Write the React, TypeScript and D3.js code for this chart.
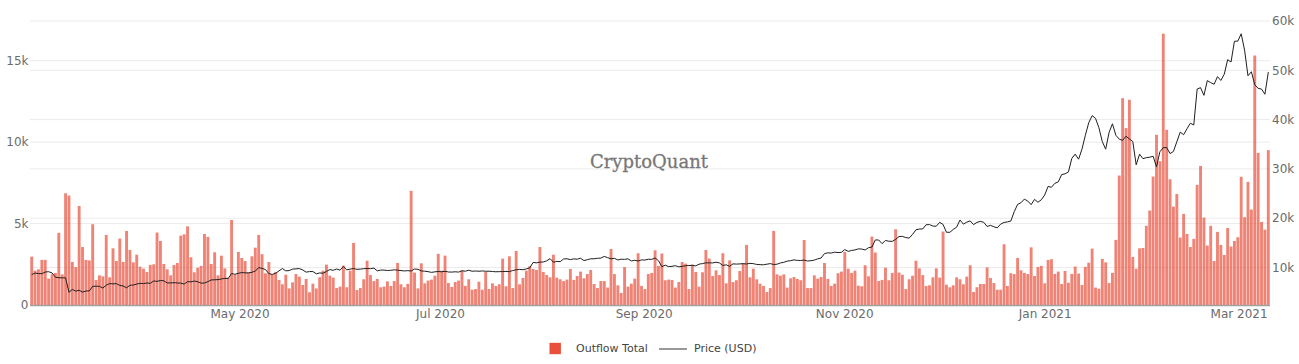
import * as d3 from 'd3'

// daily values, 1 Mar 2020 .. 1 Mar 2021
const outflowTotal = [
  2970, 2110, 2190, 2770, 2770, 1620, 1880, 1970, 4430, 1880, 6860, 6720, 2640, 2330, 6080, 3560, 2770, 2740,
  4960, 1540, 1820, 1760, 4300, 1700, 3480, 2700, 4080, 2640, 4550, 3380, 2620, 3090, 2350, 2230, 2030, 2460,
  2500, 4450, 3930, 2520, 2190, 1820, 2460, 2580, 4260, 4340, 4830, 2930, 2010, 2290, 2400, 4360, 4180, 2520,
  3240, 1820, 3030, 2250, 1680, 5220, 1840, 3260, 2890, 2700, 2010, 2990, 3520, 4300, 3120, 1950, 2640, 1880,
  2030, 1540,
  1270, 1860, 1020, 1390, 1900, 1740, 1230, 1600, 780, 1310, 1020, 1700, 2110, 2480, 1800, 1680, 1040, 1130,
  2420, 1090, 2110, 3810, 920, 1040, 1580, 2720, 1840, 1470, 1600, 1090, 1130, 1450, 1170, 1470, 2580, 1270, 1090,
  1300, 7010, 1990, 1020, 2560, 1330, 1500, 1560, 1800, 3140, 2110, 3030, 1350, 1110, 1410, 1500, 2110, 1170,
  1580, 940, 980, 1430, 940, 2030, 980, 1330, 1170, 1270, 2850, 1150, 2990, 1040, 3320, 1270, 1660, 2110, 2380, 2210,
  2150, 3560, 2030, 1840, 1700, 3090, 1680, 1580, 1470, 1560, 2210, 1540, 1780, 2050, 1640, 1900, 2150, 1290,
  1040, 1470, 1470, 1070, 3440, 1900, 1210, 740, 2330, 1130, 1310, 1620, 3180, 1170, 980, 1900, 1970, 3360, 2400, 3160,
  1520, 1560, 1540, 1070, 1410, 2640, 2540, 980, 2480, 2030, 1130, 2010, 3380, 2850, 1780, 2130, 1840, 3180,
  1330, 2740, 1410, 1520, 2090, 2580, 3690, 1700, 2230, 1580, 1310, 1170, 800, 1040, 4550, 1880, 1800, 1880, 1070, 1640,
  1720, 1600, 1520, 3990, 1040, 1040, 1820, 1620, 1720, 2580, 1600, 1170, 1310, 1950, 2050, 3260, 2230, 1970,
  2110, 1190, 1150, 2440, 1760, 4200, 3220, 1470, 1540, 2290, 1520, 1970, 4650, 1990, 1860, 980, 1580, 1800, 2720, 2250,
  1840, 1170, 1210, 1700, 2250, 1680, 4510, 1250, 1090, 1210, 1700, 1580, 1270, 1740, 2440, 800, 1090, 1290,
  1290, 2310, 1660, 1350, 940, 940, 3730, 1170, 1950, 1900, 2890, 2130, 1970, 1900, 3540, 1780, 2330, 2400, 1330, 2770,
  2810, 1910, 2050, 1290, 2090, 1370, 1910, 2360, 1930, 1230, 2340, 2600, 3460, 1070, 1000, 2830, 2620, 1350,
  1970, 4000, 7950, 12700, 10860, 12600, 2950, 2230, 3480, 3500, 4860, 5800, 7890, 10450, 8830, 16660, 10760,
  7720, 6040, 6820,
  4140, 5590, 4360, 3560, 4060, 7380, 8540, 5370, 3650, 4860, 2700, 4490, 3690, 3070, 4730, 3590, 3930, 4160,
  7870, 5390, 7560, 5860, 15320, 9340, 5100, 4630, 9510,
]

const priceUsd = [
  // Mar 2020
  8560, 8870, 8760, 8750, 9080, 9150, 8900, 8030, 7920, 7910, 7910, 4970, 5560, 5200, 5390, 5010, 5230, 5240,
  6190, 6200, 6190, 5830, 6420, 6740, 6680, 6730, 6370, 6250, 5880, 6390, 6440,
  // Apr
  6640, 6790, 6730, 6860, 6790, 7270, 7180, 7360, 7300, 6860, 6880, 6910, 6860, 6840, 6640, 7120, 7100, 7250,
  7120, 6830, 6850, 7130, 7480, 7510, 7540, 7680, 7790, 7760, 8790, 8620,
  // May
  8830, 8970, 8910, 8900, 9030, 9270, 9990, 9810, 9590, 8760, 8600, 8820, 9320, 9790, 9320, 9380, 9670, 9730,
  9780, 9510, 9060, 9170, 9180, 8720, 8900, 8840, 9200, 9580, 9430, 9700, 9460,
  // Jun
  10200, 9520, 9670, 9790, 9630, 9670, 9760, 9780, 9770, 9880, 9320, 9480, 9480, 9390, 9430, 9530, 9460, 9380,
  9300, 9360, 9290, 9690, 9630, 9300, 9250, 9160, 9010, 9120, 9190, 9140,
  // Jul
  9230, 9090, 9070, 9130, 9070, 9340, 9250, 9440, 9240, 9290, 9240, 9300, 9240, 9250, 9190, 9130, 9160, 9180,
  9210, 9160, 9390, 9540, 9610, 9550, 9710, 9930, 11030, 10940, 11100, 11110, 11350,
  // Aug
  11800, 11070, 11230, 11190, 11740, 11760, 11600, 11750, 11680, 11880, 11410, 11580, 11770, 11770, 11870,
  11910, 12250, 11990, 11760, 11870, 11520, 11680, 11650, 11750, 11330, 11460, 11320, 11540, 11510, 11680, 11650,
  // Sep
  11930, 11390, 10170, 10470, 10170, 10240, 10370, 10130, 10240, 10360, 10400, 10440, 10330, 10680, 10790,
  10950, 10940, 10930, 11080, 10920, 10420, 10540, 10240, 10740, 10690, 10730, 10770, 10710, 10840, 10780,
  // Oct
  10620, 10570, 10550, 10670, 10790, 10600, 10670, 10920, 11060, 11300, 11380, 11550, 11430, 11430, 11500,
  11320, 11370, 11500, 11750, 11920, 12820, 12970, 12930, 13110, 13030, 13070, 13640, 13270, 13460, 13560, 13780,
  // Nov
  13740, 13550, 14020, 14150, 15590, 15580, 14830, 15480, 15330, 15300, 15700, 16280, 16320, 16070, 15960,
  16720, 17650, 17800, 17820, 18680, 18700, 18410, 18370, 19160, 18740, 17150, 17140, 17720, 18180, 19630,
  // Dec
  18800, 19200, 19450, 18700, 19150, 19360, 19170, 18320, 18550, 18260, 18040, 18800, 19140, 19250, 19420,
  21310, 22800, 23140, 23870, 23480, 22750, 23820, 23240, 23730, 24710, 26440, 26270, 27080, 27360, 28840, 29000,
  // Jan 2021
  29370, 32130, 33000, 31970, 33990, 36820, 39370, 40800, 40250, 38350, 35540, 34000, 37390, 39150, 36820,
  36030, 35790, 36630, 36070, 35550, 30830, 32990, 32080, 32280, 32370, 32570, 30430, 33470, 34320, 34320, 33110,
  // Feb
  33540, 35510, 37470, 36930, 38140, 39270, 38900, 46200, 46480, 44920, 47910, 47500, 47170, 48720, 47940,
  49200, 52150, 51680, 55890, 55920, 57410, 54090, 48890, 49710, 47080, 46340, 46190, 45140,
  // Mar 1
  49630,
]

const leftTicks = [0, 5000, 10000, 15000]
const rightTicks = [10000, 20000, 30000, 40000, 50000, 60000]
const seriesNames = ['Outflow Total', 'Price (USD)']

const W = 1299
const H = 364
const margin = { top: 20, right: 29, bottom: 59, left: 30 }
const barColor = '#e8503c'
const font = '"DejaVu Sans", Verdana, sans-serif'

const startDate = new Date(2020, 2, 1)
const dates = outflowTotal.map((_, i) => d3.timeDay.offset(startDate, i))

export default function App() {
  const x0 = margin.left
  const x1 = W - margin.right
  const yBottom = H - margin.bottom

  const xBand = d3
    .scaleBand<number>()
    .domain(d3.range(outflowTotal.length))
    .range([x0, x1])
    .paddingInner(0.15)
    .paddingOuter(0.075)

  // date axis as labelled in the source chart
  const xTime = d3
    .scaleTime()
    .domain([new Date(2020, 1, 27, 2), new Date(2021, 2, 10, 10)])
    .range([x0, x1])

  const yLeft = d3.scaleLinear().domain([0, 17500]).range([yBottom, margin.top])
  const yRight = d3.scaleLinear().domain([0, 60000]).range([316.8, 21])

  const monthTicks = d3.timeMonth.every(2)!.range(new Date(2020, 3, 15), new Date(2021, 2, 10))
  const fmt = d3.timeFormat('%b %Y')
  const kFmt = (v: number) => (v === 0 ? '0' : `${v / 1000}k`)

  const line = d3
    .line<number>()
    .x((_, i) => xBand(i)! + xBand.bandwidth() / 2)
    .y((d) => yRight(d))
    .curve(d3.curveLinear)

  return (
    <svg
      width={W}
      height={H}
      style={{ position: 'absolute', left: 0, top: 0, display: 'block', background: '#fff' }}
      fontFamily={font}
    >
      {/* grid */}
      <g stroke="#ebebeb" strokeWidth={1}>
        {leftTicks
          .filter((t) => t > 0)
          .map((t) => (
            <line key={'l' + t} x1={x0} x2={x1} y1={yLeft(t)} y2={yLeft(t)} />
          ))}
        {rightTicks.map((t) => (
          <line key={'r' + t} x1={x0} x2={x1} y1={yRight(t)} y2={yRight(t)} />
        ))}
      </g>

      {/* watermark */}
      <text
        x={649}
        y={161}
        textAnchor="middle"
        dominantBaseline="central"
        fontFamily='"DejaVu Serif", serif'
        fontSize={18}
        fill="#777"
        stroke="#777"
        strokeWidth={0.3}
      >
        CryptoQuant
      </text>

      {/* bars */}
      <g fill={barColor} fillOpacity={0.7}>
        {outflowTotal.map((v, i) => (
          <rect
            key={dates[i].toISOString()}
            x={xBand(i)}
            y={yLeft(v)}
            width={xBand.bandwidth()}
            height={yBottom - yLeft(v)}
          />
        ))}
      </g>

      {/* price */}
      <path d={line(priceUsd) ?? ''} fill="none" stroke="#1f1f1f" strokeWidth={1} />

      {/* axis line */}
      <line x1={x0} x2={x1} y1={yBottom + 0.5} y2={yBottom + 0.5} stroke="#a0a0a0" strokeWidth={1.5} />

      {/* left ticks */}
      <g fontSize={12} fill="#6b6b6b" textAnchor="end">
        {leftTicks.map((t) => (
          <text key={t} x={28.5} y={yLeft(t)} dy="0.35em">
            {kFmt(t)}
          </text>
        ))}
      </g>

      {/* right ticks */}
      <g fontSize={12} fill="#6b6b6b" textAnchor="start">
        {rightTicks.map((t) => (
          <text key={t} x={1272} y={yRight(t)} dy="0.35em">
            {kFmt(t)}
          </text>
        ))}
      </g>

      {/* bottom ticks */}
      <g fontSize={12} fill="#6b6b6b" textAnchor="middle">
        {monthTicks.map((d) => (
          <text key={d.toISOString()} x={xTime(d)} y={314} dy="0.35em">
            {fmt(d)}
          </text>
        ))}
      </g>

      {/* legend */}
      <g fontSize={11} fill="#444">
        <rect x={549.5} y={342.8} width={11.4} height={11.4} fill={barColor} />
        <text x={576} y={348.5} dy="0.35em">
          {seriesNames[0]}
        </text>
        <line x1={659} x2={687} y1={349} y2={349} stroke="#333" strokeWidth={1} />
        <text x={694} y={348.5} dy="0.35em">
          {seriesNames[1]}
        </text>
      </g>
    </svg>
  )
}
